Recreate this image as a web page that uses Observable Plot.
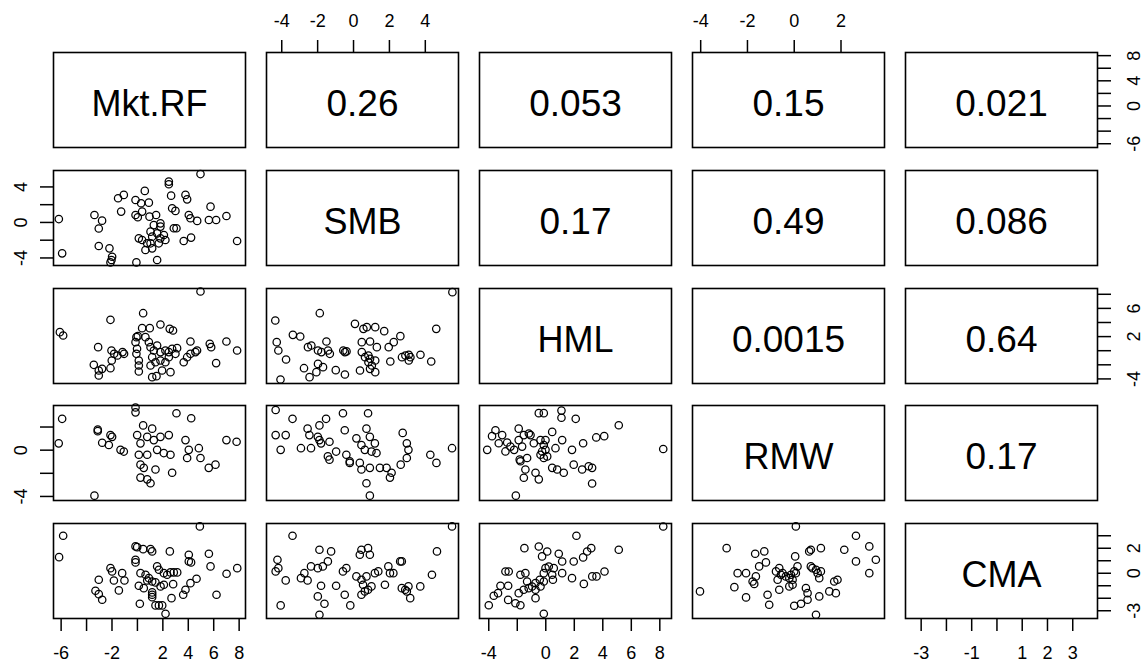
<!DOCTYPE html>
<html>
<head>
<meta charset="utf-8">
<script src="https://cdn.jsdelivr.net/npm/d3@7"></script>
<script src="https://cdn.jsdelivr.net/npm/@observablehq/plot@0.6"></script>
<style>
html, body { margin: 0; padding: 0; background: #fff; }
#chart { position: relative; width: 1143px; height: 666px; overflow: hidden; background: #fff; }
#chart svg { position: absolute; overflow: visible; }
</style>
</head>
<body>
<div id="chart"></div>
<script>
// ---- variables ----
const variables = ["Mkt.RF", "SMB", "HML", "RMW", "CMA"];

// ---- correlations shown in the upper panels (row, col order) ----
const corPairs = [[0,1],[0,2],[0,3],[0,4],[1,2],[1,3],[1,4],[2,3],[2,4],[3,4]];
const corLabels = ["0.26","0.053","0.15","0.021","0.17","0.49","0.086","0.0015","0.64","0.17"];

// ---- tick values and tick labels per variable ----
const mktTicks = [-6,-4,-2,0,2,4,6,8];
const mktBottomLabels = ["-6","","-2","","2","4","6","8"];
const mktRightLabels = ["-6","","","0","","4","","8"];
const smbTicks = [-4,-2,0,2,4];
const smbTopLabels = ["-4","-2","0","2","4"];
const smbLeftLabels = ["-4","","0","","4"];
const hmlTicks = [-4,-2,0,2,4,6,8];
const hmlBottomLabels = ["-4","","0","2","4","6","8"];
const hmlRightLabels = ["-4","","","2","","6",""];
const rmwTicks = [-4,-2,0,2];
const rmwTopLabels = ["-4","-2","0","2"];
const rmwLeftLabels = ["-4","","0",""];
const cmaTicks = [-3,-2,-1,0,1,2,3];
const cmaBottomLabels = ["-3","","-1","","1","2","3"];
const cmaRightLabels = ["-3","","","0","","2",""];

// ---- scatter values: [x, y] ----
const mkt_smb = [[4.96,5.45],[2.47,4.6],[2.47,4.3],[0.58,3.55],[-1.07,3.1],[-1.52,2.72],[-0.15,2.53],[0.29,2.16],[0.9,2.23],[2.65,3.02],[3.78,3.1],[3.91,2.6],[-1.28,1.22],[-3.38,0.84],[-2.78,0.2],[-3.04,-0.68],[-6.18,0.38],[-0.15,0.84],[0.03,0.58],[0.37,1.22],[0.95,0.65],[1.47,0.84],[2.73,1.6],[2.99,1.3],[4.04,0.84],[4.17,0.47],[4.7,0.17],[5.75,1.78],[5.62,0.28],[6.19,0.28],[7.0,0.73],[1.29,-0.3],[1.81,-0.1],[1.81,-0.47],[2.86,-0.66],[3.07,-0.66],[1.03,-1.04],[1.55,-1.23],[2.08,-1.41],[1.16,-1.6],[1.81,-1.79],[2.2,-1.98],[0.11,-1.79],[0.37,-1.98],[0.76,-2.35],[1.03,-2.35],[1.68,-2.35],[3.64,-2.09],[4.22,-1.71],[7.84,-2.09],[0.63,-3.1],[1.16,-2.92],[-3.04,-2.65],[-2.2,-2.92],[-5.92,-3.48],[-1.99,-3.86],[-2.04,-4.23],[-2.12,-4.5],[-0.08,-4.5],[1.55,-4.23]];
const mkt_hml = [[4.96,8.4],[-6.1,2.63],[-5.84,2.16],[-2.12,4.38],[0.45,5.32],[0.37,3.2],[0.97,3.2],[1.81,3.72],[2.54,3.1],[2.8,2.87],[-0.08,1.92],[0.03,2.06],[0.63,1.92],[0.9,1.21],[-3.09,0.5],[-2.04,0.03],[-1.83,-0.44],[-1.57,-0.68],[-1.17,-0.2],[-1.05,-0.44],[-2.02,-1.39],[-3.43,-2.0],[-3.04,-2.81],[-2.78,-2.57],[-2.12,-2.48],[-3.04,-3.51],[-0.15,1.21],[-0.03,0.27],[-0.08,-0.44],[0.11,-1.39],[0.11,-2.1],[0.11,-2.95],[1.03,0.5],[1.29,0.03],[1.55,0.74],[1.81,-0.2],[2.2,0.03],[2.47,-0.2],[2.73,0.27],[3.12,0.36],[2.99,-0.44],[1.16,-0.92],[1.42,-1.63],[1.81,-1.39],[2.2,-1.63],[2.47,-0.92],[1.03,-2.1],[1.94,-2.81],[2.6,-3.04],[1.16,-3.75],[1.5,-3.61],[3.64,-1.63],[3.91,-0.92],[4.17,-0.44],[4.56,-0.2],[4.69,0.03],[4.17,1.3],[5.69,0.97],[5.8,0.5],[7.0,1.3],[7.84,0.03],[6.19,-1.76]];
const smb_hml = [[5.51,8.3],[-4.36,4.28],[-1.88,5.32],[0.08,3.81],[0.55,3.1],[0.74,3.34],[1.21,3.34],[1.71,2.77],[4.61,3.1],[-3.38,2.25],[-2.97,2.01],[-4.28,1.21],[-4.19,0.03],[-3.76,-1.25],[-2.54,0.5],[-2.35,0.74],[-1.98,0.03],[-1.79,-0.2],[-1.51,1.3],[-1.42,0.03],[-1.32,-0.44],[-1.98,-1.87],[-2.76,-2.48],[-2.45,-3.75],[-1.7,-2.33],[-2.07,-3.04],[-4.07,-4.08],[-0.99,-2.76],[-0.48,-3.37],[-0.57,0.03],[-0.48,-0.2],[-0.39,-0.1],[0.46,1.21],[0.92,1.3],[1.3,0.5],[0.46,-0.2],[0.64,-0.92],[0.83,-1.63],[1.02,-2.1],[1.21,-1.39],[0.36,-2.81],[0.92,-2.57],[1.21,-3.04],[0.83,-0.68],[0.92,-1.15],[1.96,0.5],[2.24,1.21],[2.61,2.06],[2.05,-1.53],[2.7,-0.92],[2.89,-0.68],[3.08,-0.58],[3.17,-0.92],[3.73,-0.58],[4.33,-1.53],[3.08,-1.39]];
const mkt_rmw = [[-5.92,2.71],[-6.19,0.59],[-3.12,1.78],[-3.12,1.64],[-2.12,1.3],[-1.99,1.15],[-2.77,0.64],[-2.25,0.45],[-1.33,0.03],[-1.07,-0.12],[-0.15,3.69],[-0.15,3.27],[0.45,2.14],[1.16,1.86],[3.07,3.19],[4.23,2.76],[-0.02,1.3],[0.77,1.15],[1.29,0.87],[1.81,1.15],[2.47,1.3],[1.55,0.03],[2.07,-0.25],[2.6,-0.4],[0.24,0.59],[0.11,-0.4],[0.77,-0.4],[3.78,0.87],[4.04,0.03],[3.91,-0.68],[4.83,0.17],[4.96,-0.68],[7.0,0.87],[7.8,0.73],[0.24,-1.25],[0.5,-1.53],[1.42,-1.67],[2.73,-1.95],[0.24,-2.37],[0.77,-2.52],[1.03,-2.86],[5.61,-1.53],[6.14,-1.25],[-3.38,-3.93]];
const smb_rmw = [[-4.34,3.47],[-3.4,2.71],[-1.9,2.14],[-1.53,2.71],[-0.59,3.19],[0.81,3.19],[-2.56,1.86],[-4.34,1.3],[-3.78,1.3],[-4.06,0.03],[-2.93,0.17],[-2.37,0.17],[-2.46,1.3],[-1.9,0.87],[-1.81,0.59],[-1.99,1.15],[-1.34,0.73],[-0.49,1.72],[-1.43,-0.54],[-0.97,-0.12],[-0.4,-0.4],[-0.21,-0.97],[0.16,1.02],[0.44,0.45],[0.72,1.86],[0.91,1.15],[0.63,0.03],[1.0,-0.12],[1.19,0.59],[1.28,-0.25],[0.35,-1.1],[2.74,1.49],[2.97,0.59],[3.06,0.03],[2.97,-0.68],[2.63,-1.25],[4.28,-0.4],[4.62,-1.1],[5.49,0.17],[0.44,-1.67],[0.91,-1.53],[1.47,-1.53],[1.84,-1.53],[2.03,-2.37],[2.12,-1.95],[0.72,-2.86],[0.91,-3.93],[-1.34,-0.82],[-0.21,-1.1]];
const hml_rmw = [[-0.49,3.2],[-0.14,3.2],[1.1,3.42],[1.1,2.8],[2.1,2.71],[5.12,2.15],[-3.53,1.72],[-3.77,1.21],[-3.06,1.3],[-3.3,0.6],[-2.71,0.66],[-2.48,0.31],[-4.11,0.03],[-2.83,-0.11],[-2.22,0.03],[-1.9,1.86],[-1.54,1.3],[-1.19,1.44],[-1.07,1.3],[-1.9,0.87],[-1.66,0.31],[-1.83,-0.82],[-1.31,-0.68],[-1.78,-0.96],[-1.43,-1.67],[-0.72,-1.95],[-1.54,-2.38],[-0.49,-2.52],[-0.84,0.6],[-0.37,0.87],[-0.02,0.87],[-0.14,0.45],[-0.02,0.03],[-0.26,-0.11],[-0.37,-0.4],[0.1,-0.54],[-0.14,-0.68],[0.45,1.58],[0.68,0.17],[1.15,0.87],[0.45,-1.53],[0.8,-1.67],[1.26,-1.95],[1.84,0.03],[2.62,0.6],[1.96,-1.25],[2.55,-1.67],[3.01,-1.39],[3.25,-1.53],[3.54,1.1],[4.1,1.21],[3.25,-2.88],[8.24,0.1],[-2.1,-3.93]];
const mkt_cma = [[4.91,3.75],[-5.84,3.0],[-6.16,1.29],[-0.15,2.15],[-0.02,2.09],[0.45,1.93],[1.03,1.93],[1.16,1.75],[2.55,1.75],[4.04,1.48],[4.22,0.87],[5.62,1.56],[5.75,0.55],[-0.15,1.08],[-0.15,0.87],[-2.12,0.41],[-1.99,0.15],[-1.2,0.01],[-3.04,-0.52],[-1.85,-0.58],[-1.02,-0.58],[-1.46,-1.37],[-3.3,-1.4],[-3.04,-1.67],[-2.77,-2.12],[0.24,0.01],[0.64,-0.12],[0.9,-0.39],[1.16,-0.66],[1.55,0.55],[1.69,0.28],[2.08,0.01],[2.34,-0.12],[2.6,0.07],[2.86,0.07],[3.13,0.07],[0.11,-1.0],[0.5,-1.19],[0.77,-0.58],[1.42,-0.73],[1.82,-1.05],[2.08,-0.92],[2.81,-0.87],[1.16,-1.53],[1.16,-1.72],[1.16,-1.91],[0.19,-2.44],[1.42,-2.57],[1.69,-2.57],[1.95,-2.57],[2.21,-3.24],[2.68,-1.99],[3.6,-1.72],[3.78,-1.32],[4.17,-0.79],[4.65,-0.44],[6.22,-1.72],[7.01,-0.04],[7.85,0.41],[4.04,0.95]];
const smb_cma = [[-3.4,3.0],[-4.24,1.08],[-4.19,0.41],[-4.34,0.15],[-3.78,-0.57],[-4.06,-2.57],[-2.93,-0.39],[-2.74,0.01],[-2.56,-0.57],[-2.37,0.55],[-1.99,0.41],[-1.9,1.88],[-1.43,0.95],[-1.25,1.75],[-1.71,0.55],[-1.99,-1.85],[-1.81,-1.0],[-1.62,-2.44],[-1.9,-3.32],[-0.97,-1.0],[-0.49,-1.72],[-0.18,-2.57],[-0.59,0.15],[-0.4,0.41],[0.35,1.48],[0.44,1.88],[0.81,2.01],[0.91,1.48],[0.16,-0.25],[0.44,-0.52],[0.72,-0.25],[0.53,-0.92],[0.44,-1.72],[0.63,-1.45],[0.81,-1.32],[1.0,-1.05],[1.19,0.01],[1.38,0.15],[1.75,-0.92],[1.94,0.55],[2.03,0.01],[2.22,0.01],[2.6,0.95],[2.69,0.95],[2.69,-1.19],[2.88,-1.32],[2.97,-1.45],[3.06,-1.05],[3.16,-1.99],[3.72,-1.05],[4.37,-0.12],[4.65,1.75],[5.49,3.75]];
const hml_cma = [[8.24,3.74],[2.15,3.0],[-1.5,2.01],[-0.49,2.14],[0.1,1.74],[-0.26,1.35],[0.91,1.56],[3.19,2.01],[2.9,1.74],[2.62,1.27],[1.96,0.94],[1.15,0.94],[1.15,0.01],[5.12,1.88],[-2.83,0.14],[-2.6,0.14],[-3.18,-1.0],[-2.64,-1.0],[-3.65,-1.8],[-3.35,-1.59],[-4.0,-2.56],[-2.64,-2.13],[-2.13,-2.4],[-1.78,-2.56],[-1.9,-1.59],[-1.55,-1.32],[-1.78,-0.12],[-1.43,0.01],[-1.31,-0.66],[-1.2,-1.19],[-0.96,-1.06],[-0.72,-0.79],[-0.42,-0.52],[-0.72,-1.32],[-0.37,-1.06],[-0.14,-0.66],[-0.14,0.01],[-0.02,0.41],[0.21,0.54],[0.56,0.41],[0.45,-0.12],[-0.72,-1.99],[-0.14,-3.24],[0.5,-0.52],[1.84,-0.39],[2.67,-0.85],[3.26,-0.25],[3.56,-0.25],[4.12,0.14]];
const rmw_cma = [[-4.03,-1.45],[-2.89,2.01],[-2.42,0.01],[-2.06,0.01],[-2.56,-1.11],[-2.06,-1.93],[-1.67,1.56],[-1.28,1.75],[-1.21,0.87],[-1.5,0.55],[-1.64,-0.25],[-1.78,-0.66],[-1.71,-0.85],[-1.14,-1.72],[-1.07,-2.52],[-0.78,0.15],[-0.71,-0.52],[0.07,3.75],[-0.64,0.41],[-0.57,-0.12],[-0.5,0.01],[-0.36,-0.25],[-0.21,-0.39],[-0.14,-0.12],[-0.07,-0.52],[0.0,0.15],[0.07,0.01],[0.14,0.55],[0.04,1.35],[-0.64,-1.32],[-0.21,-1.05],[-0.07,-0.92],[0.0,-2.6],[0.29,-2.44],[0.5,-1.19],[0.57,-1.59],[0.57,-2.12],[0.64,1.75],[0.71,1.88],[1.14,2.01],[0.71,0.55],[0.78,0.41],[0.93,0.28],[1.0,0.01],[1.14,0.15],[1.07,-0.39],[0.93,-3.32],[1.07,-1.85],[1.5,-1.45],[1.78,-1.59],[1.71,-0.66],[1.85,-0.52],[2.14,1.88],[2.64,3.0],[2.64,0.95],[3.21,2.15],[3.21,0.01],[3.49,1.08]];

// ---- chart configuration built from the arrays above ----
const scatter = {"1,0": mkt_smb, "2,0": mkt_hml, "2,1": smb_hml, "3,0": mkt_rmw, "3,1": smb_rmw, "3,2": hml_rmw,
                 "4,0": mkt_cma, "4,1": smb_cma, "4,2": hml_cma, "4,3": rmw_cma};
const domains = [[-6.6, 8.5], [-4.85, 5.85], [-4.65, 8.82], [-4.35, 3.86], [-3.62, 3.98]];
const ticks = [mktTicks, smbTicks, hmlTicks, rmwTicks, cmaTicks];
const topLabels = {1: smbTopLabels, 3: rmwTopLabels};
const bottomLabels = {0: mktBottomLabels, 2: hmlBottomLabels, 4: cmaBottomLabels};
const leftLabels = {1: smbLeftLabels, 3: rmwLeftLabels};
const rightLabels = {0: mktRightLabels, 2: hmlRightLabels, 4: cmaRightLabels};

const PW = 192, PH = 95, X0 = 53, DX = 213, Y0 = 52, DY = 117.75;
const M = {top: 45, right: 50, bottom: 45, left: 50};
const FONT = "'Liberation Sans', Arial, sans-serif";
const container = document.getElementById("chart");

function fmt(tk, labels) { return d => labels[tk.indexOf(d)]; }

for (let i = 0; i < 5; i++) {
  for (let j = 0; j < 5; j++) {
    const marks = [Plot.frame({stroke: "black", strokeWidth: 1.6})];
    if (i === j) {
      marks.push(Plot.text([variables[i]], {frameAnchor: "middle", text: d => d, fontSize: 36, dy: 4, fill: "black"}));
    } else if (i < j) {
      const k = corPairs.findIndex(p => p[0] === i && p[1] === j);
      marks.push(Plot.text([corLabels[k]], {frameAnchor: "middle", text: d => d, fontSize: 37, dy: 4, fill: "black"}));
    } else {
      marks.push(Plot.dot(scatter[i + "," + j], {x: d => d[0], y: d => d[1], r: 3.7, stroke: "black", strokeWidth: 1.25, fill: "none"}));
    }
    if (i === 0 && topLabels[j]) {
      marks.push(Plot.axisX(ticks[j], {anchor: "top", tickSize: 13, tickPadding: 13, strokeWidth: 1.5, fontSize: 18, tickFormat: fmt(ticks[j], topLabels[j])}));
    }
    if (i === 4 && bottomLabels[j]) {
      marks.push(Plot.axisX(ticks[j], {anchor: "bottom", tickSize: 13, tickPadding: 15, strokeWidth: 1.5, fontSize: 18, tickFormat: fmt(ticks[j], bottomLabels[j])}));
    }
    if (j === 0 && leftLabels[i]) {
      marks.push(Plot.axisY(ticks[i], {anchor: "left", tickSize: 13, tickPadding: 14, tickRotate: -90, lineAnchor: "bottom", strokeWidth: 1.5, fontSize: 18, tickFormat: fmt(ticks[i], leftLabels[i])}));
    }
    if (j === 4 && rightLabels[i]) {
      marks.push(Plot.axisY(ticks[i], {anchor: "right", tickSize: 13, tickPadding: 17, tickRotate: -90, lineAnchor: "top", strokeWidth: 1.5, fontSize: 18, tickFormat: fmt(ticks[i], rightLabels[i])}));
    }
    const svg = Plot.plot({
      width: PW + M.left + M.right,
      height: PH + M.top + M.bottom,
      marginTop: M.top, marginRight: M.right, marginBottom: M.bottom, marginLeft: M.left,
      x: {domain: domains[j], axis: null, label: null},
      y: {domain: domains[i], axis: null, label: null},
      style: {fontFamily: FONT, fontSize: "18px", color: "black", background: "transparent", overflow: "visible"},
      marks
    });
    svg.style.left = (X0 + j * DX - M.left) + "px";
    svg.style.top = (Y0 + i * DY - M.top) + "px";
    container.appendChild(svg);
  }
}
</script>
</body>
</html>
